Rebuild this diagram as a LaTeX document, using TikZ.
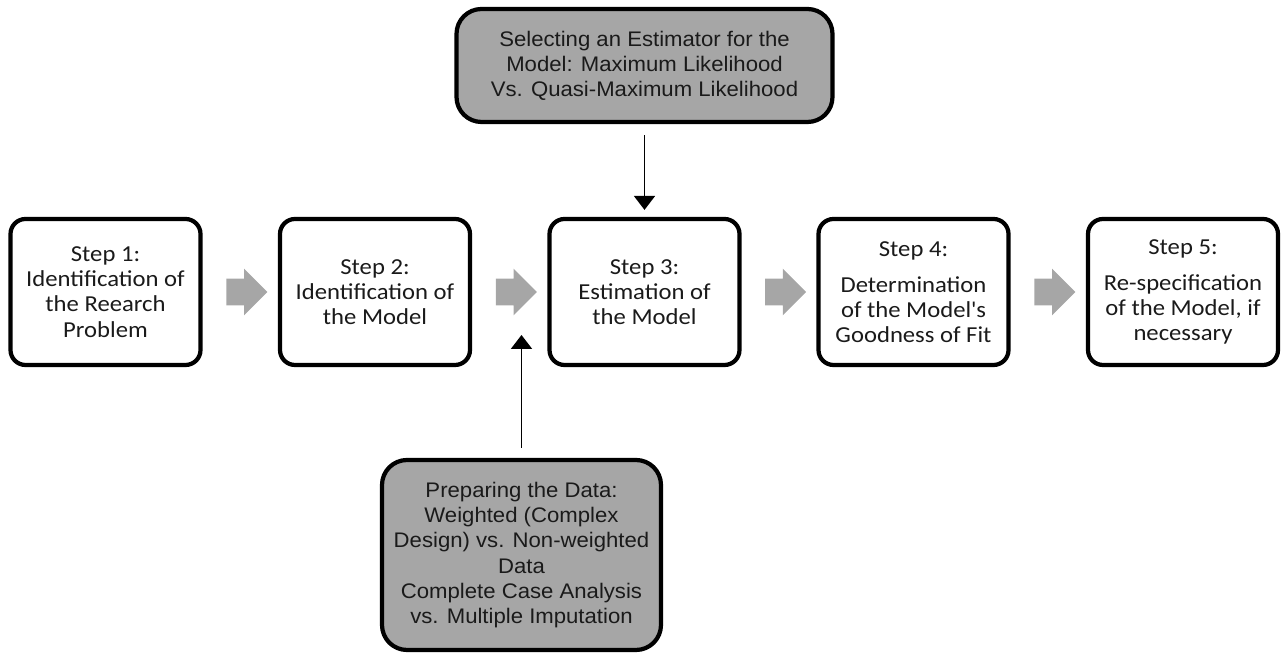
\documentclass[tikz,border=0pt]{standalone}
\usepackage{fontspec}
\setmainfont{Liberation Sans}
\newfontfamily\stepfont[FakeStretch=1.08]{Carlito}
\newfontfamily\notefont[FakeStretch=1.05]{Liberation Sans}
\usetikzlibrary{arrows.meta,positioning,calc,shapes.arrows}
\definecolor{boxgray}{HTML}{A6A6A6}
\definecolor{textdark}{HTML}{1A1A1A}

\begin{document}
\begin{tikzpicture}[
  stepbox/.style={draw,rounded corners=0.3cm,line width=2.4pt,minimum width=3.8cm,
                  minimum height=2.92cm,align=center,text=textdark,
                  font=\stepfont\fontsize{13}{14.3}\selectfont},
  notebox/.style={draw,rounded corners=0.5cm,line width=2.4pt,fill=boxgray,align=center,
                  text=textdark,font=\notefont\fontsize{12}{14.3}\selectfont},
  flow/.style={single arrow,fill=boxgray,draw=none,inner xsep=0pt,inner ysep=0.26cm,
               text height=0pt,text depth=0pt,minimum height=0.82cm,
               single arrow head extend=0.2cm},
  pointer/.style={-{Triangle[length=0.28cm,width=0.42cm]},line width=1.1pt},
]
  \useasboundingbox (0,0) rectangle (25.68,13.06);

  % the five steps
  \node[stepbox] (s1) at (2.11,7.22) {Step 1:\\Identification of\\the Reearch\\Problem};
  \node[stepbox] (s2) at (7.50,7.22) {Step 2:\\Identification of\\the Model};
  \node[stepbox] (s3) at (12.89,7.22) {Step 3:\\Estimation of\\the Model};
  \node[stepbox] (s4) at (18.27,7.22) {Step 4:\\[6pt]Determination\\of the Model\textquotesingle s\\Goodness of Fit};
  \node[stepbox] (s5) at (23.66,7.22) {Step 5:\\[6pt]Re-specification\\of the Model, if\\necessary};

  \foreach \a/\b in {s1/s2,s2/s3,s3/s4,s4/s5}
    \node[flow] (f\a) at ($(\a.east)!0.5!(\b.west)$) {};

  % side inputs
  \node[notebox,minimum width=7.52cm,minimum height=2.26cm] (estim) at (12.89,11.75)
    {Selecting an Estimator for the\\Model: Maximum Likelihood\\Vs. Quasi-Maximum Likelihood};
  \node[notebox,minimum width=5.58cm,minimum height=3.8cm] (prep) at (10.43,1.96)
    {Preparing the Data:\\Weighted (Complex\\Design) vs. Non-weighted\\Data\\Complete Case Analysis\\vs. Multiple Imputation};
  \coordinate (feed) at (10.43,6.36);

  \draw[pointer,shorten <=0.22cm,shorten >=0.14cm] (estim.south) -- (s3.north);
  \draw[pointer,shorten <=0.2cm] (prep.north) -- (feed);
\end{tikzpicture}
\end{document}
